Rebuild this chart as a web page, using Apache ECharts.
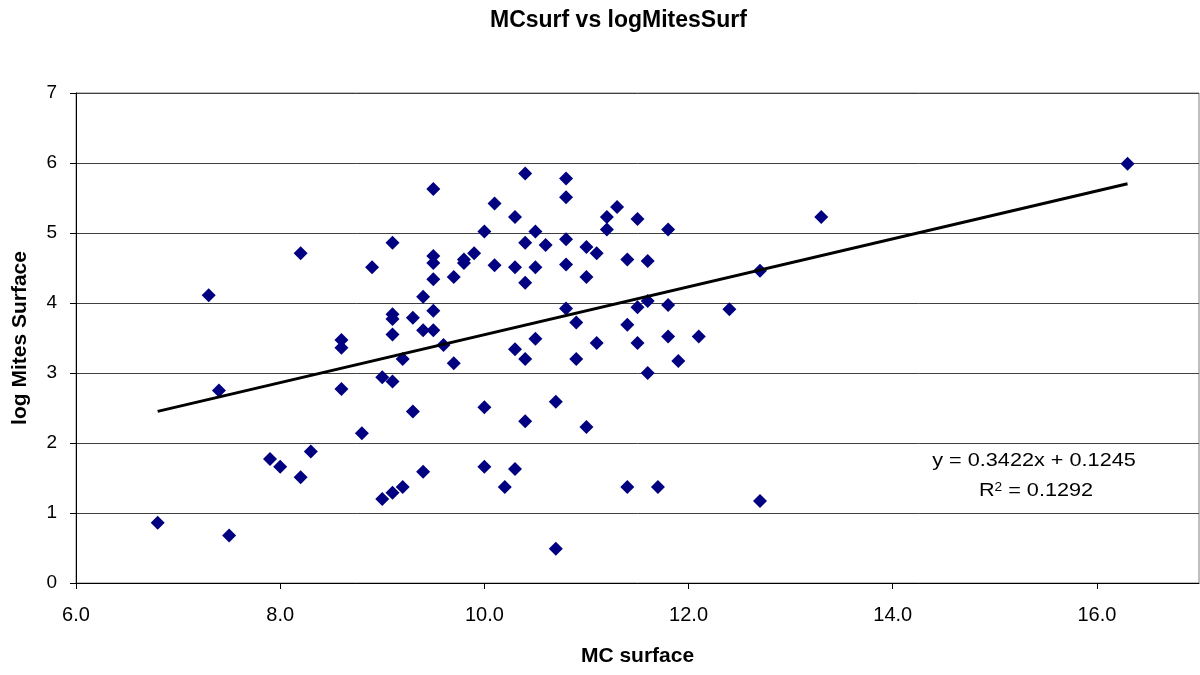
<!DOCTYPE html>
<html>
<head>
<meta charset="utf-8">
<title>MCsurf vs logMitesSurf</title>
<script src="https://cdn.jsdelivr.net/npm/echarts@6/dist/echarts.min.js"></script>
<style>
  html, body { margin: 0; padding: 0; background: #fff; }
  #chart { width: 1200px; height: 675px; }
</style>
</head>
<body>
<div id="chart"></div>
<script>
// MC surface (x) for each sample
const mcSurface = [
  6.8, 7.3, 7.4, 7.5, 7.9, 8.0, 8.2, 8.2, 8.3, 8.6,
  8.6, 8.6, 8.8, 8.9, 9.0, 9.0, 9.1, 9.1, 9.1, 9.1,
  9.1, 9.1, 9.2, 9.2, 9.3, 9.3, 9.4, 9.4, 9.4, 9.5,
  9.5, 9.5, 9.5, 9.5, 9.5, 9.6, 9.7, 9.7, 9.8, 9.8,
  9.9, 10.0, 10.0, 10.0, 10.1, 10.1, 10.2, 10.3, 10.3, 10.3,
  10.3, 10.4, 10.4, 10.4, 10.4, 10.4, 10.5, 10.5, 10.5, 10.6,
  10.7, 10.7, 10.8, 10.8, 10.8, 10.8, 10.8, 10.9, 10.9, 11.0,
  11.0, 11.0, 11.1, 11.1, 11.2, 11.2, 11.3, 11.4, 11.4, 11.4,
  11.5, 11.5, 11.5, 11.6, 11.6, 11.6, 11.7, 11.8, 11.8, 11.8,
  11.9, 12.1, 12.4, 12.7, 12.7, 13.3, 16.3
];

// log Mites Surface (y) for each sample
const logMitesSurface = [
  0.86, 4.11, 2.75, 0.68, 1.77, 1.66, 4.71, 1.51, 1.88, 3.47,
  3.36, 2.77, 2.14, 4.51, 2.94, 1.20, 4.86, 3.84, 3.77, 3.55,
  2.88, 1.29, 3.20, 1.37, 3.79, 2.45, 4.09, 3.61, 1.59, 5.63,
  4.67, 4.57, 4.34, 3.89, 3.61, 3.40, 4.37, 3.14, 4.62, 4.57,
  4.71, 5.02, 2.51, 1.66, 5.42, 4.54, 1.37, 5.23, 4.51, 3.34,
  1.63, 5.85, 4.86, 4.29, 3.20, 2.31, 5.02, 4.51, 3.49, 4.83,
  2.59, 0.49, 5.78, 5.51, 4.91, 4.55, 3.92, 3.72, 3.20, 4.80,
  4.37, 2.23, 4.71, 3.43, 5.23, 5.05, 5.37, 4.62, 3.69, 1.37,
  5.20, 3.94, 3.43, 4.60, 4.03, 3.00, 1.37, 5.05, 3.97, 3.52,
  3.17, 3.52, 3.91, 4.46, 1.17, 5.23, 5.99
];

// Linear trend: y = slope * x + intercept, R² as reported
const trendSlope = 0.3422;
const trendIntercept = 0.1245;
const trendR2 = 0.1292;

// Tick labels
const xTickValues = [6, 8, 10, 12, 14, 16];
const yTickValues = [0, 1, 2, 3, 4, 5, 6, 7];

const points = mcSurface.map((x, i) => [x, logMitesSurface[i]]);
const xMinData = Math.min(...mcSurface);
const xMaxData = Math.max(...mcSurface);
const trendLine = [xMinData, xMaxData].map(x => [x, trendSlope * x + trendIntercept]);

const FONT = '"Liberation Sans", Arial, sans-serif';

const chart = echarts.init(document.getElementById('chart'), null, { renderer: 'canvas' });

chart.setOption({
  animation: false,
  backgroundColor: '#ffffff',
  title: {
    text: 'MCsurf vs logMitesSurf',
    left: 485,
    top: 4,
    textStyle: { fontFamily: FONT, fontSize: 23, fontWeight: 'bold', color: '#000' }
  },
  grid: {
    left: 76, right: 1, top: 93, bottom: 92,
    show: true, borderColor: '#808080', borderWidth: 1, backgroundColor: 'transparent'
  },
  xAxis: {
    type: 'value',
    min: 6, max: 17,
    name: 'MC surface',
    nameLocation: 'middle',
    nameGap: 63,
    nameTextStyle: { fontFamily: FONT, fontSize: 21, fontWeight: 'bold', color: '#000' },
    axisLine: { show: true, onZero: false, lineStyle: { color: '#000', width: 1 } },
    axisTick: { show: true, length: 6, lineStyle: { color: '#000' }, customValues: xTickValues },
    axisLabel: {
      fontFamily: FONT, fontSize: 20, color: '#000', margin: 22,
      customValues: xTickValues,
      formatter: v => v.toFixed(1)
    },
    splitLine: { show: false }
  },
  yAxis: {
    type: 'value',
    min: 0, max: 7, interval: 1,
    name: 'log Mites Surface',
    nameLocation: 'middle',
    nameGap: 45,
    nameRotate: 90,
    nameTextStyle: { fontFamily: FONT, fontSize: 21, fontWeight: 'bold', color: '#000' },
    axisLine: { show: true, onZero: false, lineStyle: { color: '#000', width: 1 } },
    axisTick: { show: true, length: 6, lineStyle: { color: '#000' } },
    axisLabel: {
      fontFamily: FONT, fontSize: 19, color: '#000', margin: 19,
      customValues: yTickValues
    },
    splitLine: { show: true, lineStyle: { color: '#404040', width: 1 } }
  },
  series: [
    {
      name: 'logMitesSurf',
      type: 'scatter',
      data: points,
      symbol: 'diamond',
      symbolSize: 14,
      itemStyle: { color: '#000080', opacity: 1 },
      z: 3
    },
    {
      name: 'Linear trend',
      type: 'line',
      data: trendLine,
      symbol: 'none',
      lineStyle: { color: '#000', width: 3 },
      z: 4
    }
  ],
  graphic: [
    {
      type: 'text',
      x: 1034, y: 461,
      scaleX: 1.14,
      style: {
        text: 'y = ' + trendSlope.toFixed(4) + 'x + ' + trendIntercept.toFixed(4),
        fontFamily: FONT, fontSize: 19, fill: '#000',
        align: 'center', verticalAlign: 'middle'
      }
    },
    {
      type: 'text',
      x: 1036, y: 491,
      scaleX: 1.14,
      style: {
        text: '{b|R}{s|2}{b| = ' + trendR2.toFixed(4) + '}',
        align: 'center', verticalAlign: 'middle',
        rich: {
          b: { fontFamily: FONT, fontSize: 19, color: '#000' },
          s: { fontFamily: FONT, fontSize: 12, color: '#000', verticalAlign: 'top', padding: [0, 0, 7, 0] }
        }
      }
    }
  ]
});
</script>
</body>
</html>
